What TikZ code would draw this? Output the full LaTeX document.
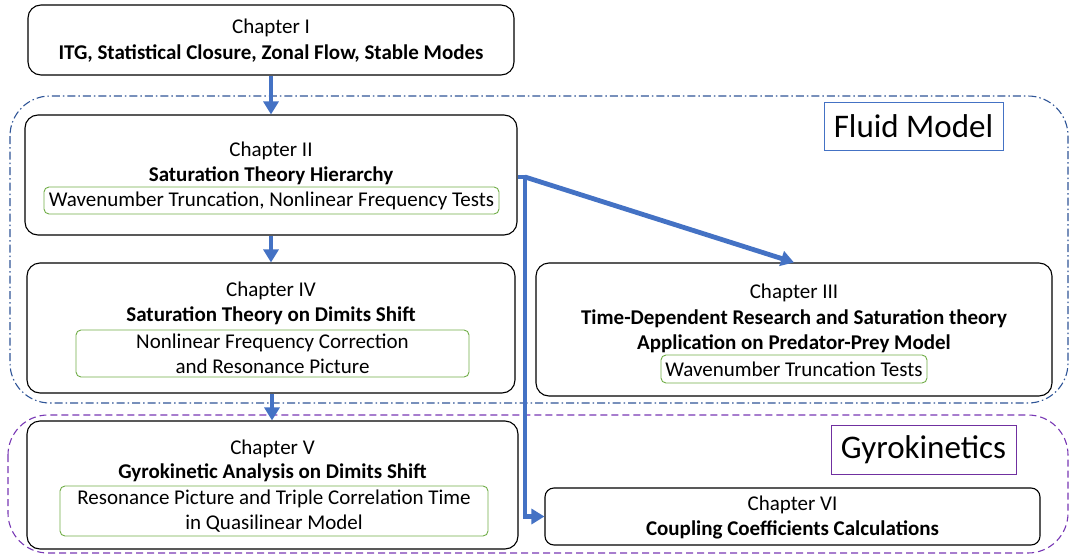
\documentclass[tikz,border=0pt]{standalone}
\usepackage{fontspec}
\setmainfont{Carlito}
\usetikzlibrary{arrows.meta,calc}
\definecolor{arrblue}{RGB}{68,114,196}
\definecolor{regblue}{RGB}{47,85,151}
\definecolor{grn}{RGB}{112,173,71}
\definecolor{purp}{RGB}{112,48,160}
\definecolor{regpurp}{RGB}{120,56,180}
\tikzset{
  chap/.style={draw=black, line width=1.1pt, rounded corners=13pt, inner sep=0pt},
  sub/.style={draw=grn, line width=0.9pt, rounded corners=5pt, inner sep=0pt},
  txt/.style={inner sep=0pt, font=\fontsize{21}{25}\selectfont, align=center},
  btxt/.style={txt, font=\fontsize{21}{25}\selectfont\bfseries},
  arr/.style={draw=arrblue, line width=4.8pt, -{Triangle[length=13pt,width=15pt]}},
  lbl/.style={line width=0.9pt, inner sep=0pt, font=\fontsize{33}{38}\selectfont},
  region/.style={line width=1.1pt, rounded corners=40pt}
}
\begin{document}
\begin{tikzpicture}[x=1pt,y=-1pt]
\useasboundingbox (0,0) rectangle (1071,557);

% model regions
\draw[region, draw=regblue, dash pattern=on 8pt off 3pt on 1.5pt off 3pt] (10,96) rectangle (1068,403);
\draw[region, draw=regpurp, dash pattern=on 7pt off 4pt] (8,415) rectangle (1068,553);

% region labels
\node[lbl, draw=arrblue, minimum width=179pt, minimum height=48pt] (fluid) at (913.5,126) {Fluid Model};
\node[lbl, draw=purp, minimum width=185pt, minimum height=49pt] (gyro) at (923.5,449.5) {Gyrokinetics};

% Chapter I
\node[chap, fill=white, minimum width=486pt, minimum height=70pt] (c1) at (271,40) {};
\node[txt] (c1a) at (271,28) {Chapter I};
\node[btxt] (c1b) at (271,54) {ITG, Statistical Closure, Zonal Flow, Stable Modes};

% Chapter II
\node[chap, minimum width=492pt, minimum height=120pt] (c2) at (271,175) {};
\node[txt] (c2a) at (271,151) {Chapter II};
\node[btxt] (c2b) at (271,176) {Saturation Theory Hierarchy};
\node[sub, minimum width=455pt, minimum height=27pt] (c2s) at (271.5,200.5) {};
\node[txt] (c2c) at (c2s) {Wavenumber Truncation, Nonlinear Frequency Tests};

% Chapter IV
\node[chap, minimum width=488pt, minimum height=130pt] (c4) at (271,328) {};
\node[txt] (c4a) at (271,291) {Chapter IV};
\node[btxt] (c4b) at (271,316) {Saturation Theory on Dimits Shift};
\node[sub, minimum width=393pt, minimum height=47pt] (c4s) at (272.5,353.5) {};
\node[txt] (c4c) at (c4s) {Nonlinear Frequency Correction\\and Resonance Picture};

% Chapter III
\node[chap, minimum width=516pt, minimum height=133pt] (c3) at (794,329.5) {};
\node[txt] (c3a) at (794,293) {Chapter III};
\node[btxt] (c3b) at (794,331) {Time-Dependent Research and Saturation theory\\Application on Predator-Prey Model};
\node[sub, minimum width=266pt, minimum height=28pt] (c3s) at (794,369) {};
\node[txt] (c3c) at (c3s) {Wavenumber Truncation Tests};

% Chapter V
\node[chap, minimum width=491pt, minimum height=128pt] (c5) at (272.5,485) {};
\node[txt] (c5a) at (272.5,449) {Chapter V};
\node[btxt] (c5b) at (272.5,473) {Gyrokinetic Analysis on Dimits Shift};
\node[sub, minimum width=428pt, minimum height=50pt] (c5s) at (274,511) {};
\node[txt] (c5c) at (c5s) {Resonance Picture and Triple Correlation Time\\in Quasilinear Model};

% Chapter VI
\node[chap, minimum width=495pt, minimum height=57pt, rounded corners=9pt] (c6) at (792.5,516.5) {};
\node[txt] (c6a) at (792.5,505) {Chapter VI};
\node[btxt] (c6b) at (792.5,530) {Coupling Coefficients Calculations};

% connectors
\coordinate (j) at (525,177);
\draw[arr] (c1.south) -- (c2.north);
\draw[arr] (c2.south) -- (c4.north);
\draw[arr] ([xshift=1pt]c4.south) -- ([xshift=1pt]c4.south |- c5.north);
\draw[arr] (j) -- (c3.north);
\draw[arr, rounded corners=0pt] (c2.east |- j) -- (j) |- (c6.west);
\end{tikzpicture}
\end{document}
